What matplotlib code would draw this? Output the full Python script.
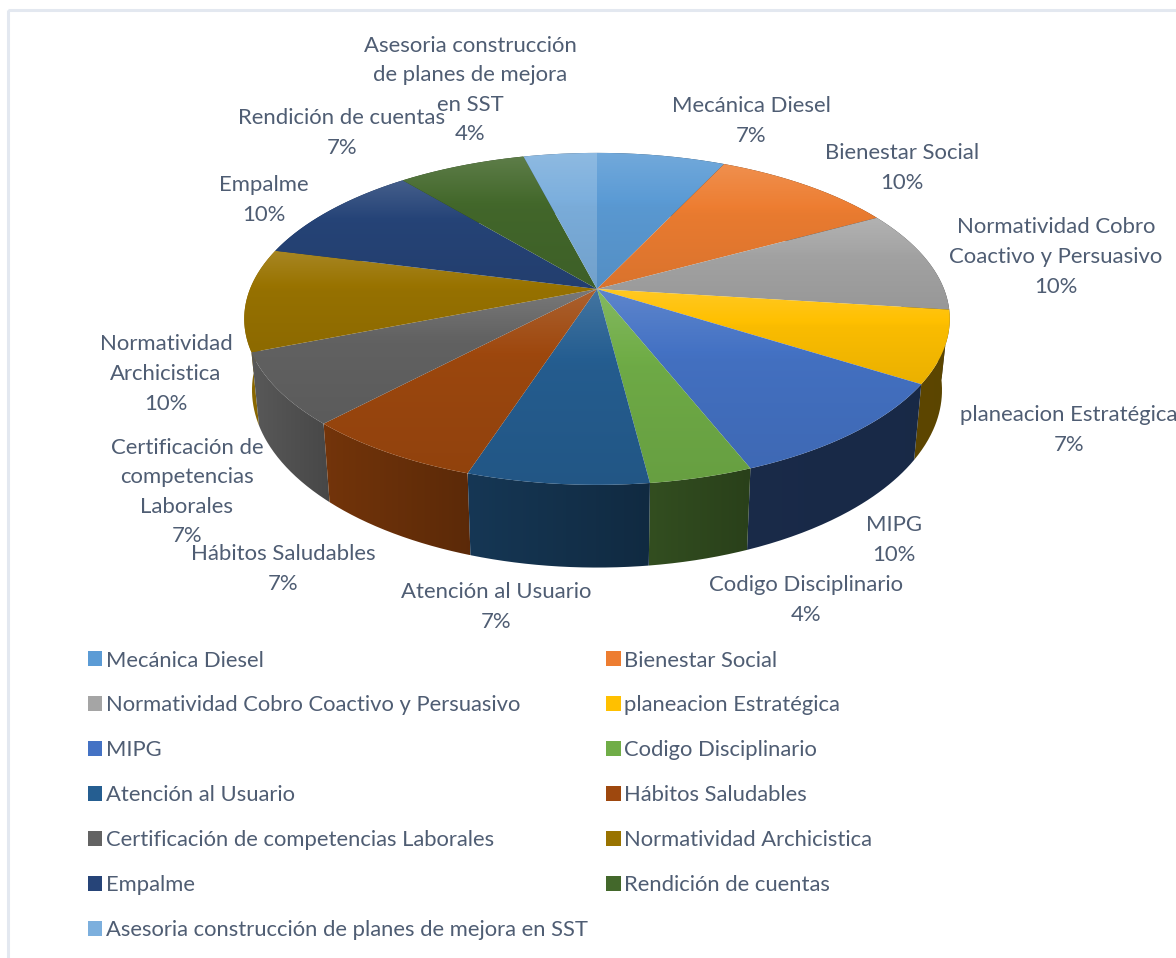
# -*- coding: utf-8 -*-
import numpy as np
import matplotlib
matplotlib.use('Agg')
import matplotlib.pyplot as plt
from matplotlib.patches import Patch, PathPatch, Rectangle
from matplotlib.path import Path

plt.rcParams['font.family'] = ['Lato', 'DejaVu Sans']

names = ['Mecánica Diesel', 'Bienestar Social', 'Normatividad Cobro Coactivo y Persuasivo',
         'planeacion Estratégica', 'MIPG', 'Codigo Disciplinario', 'Atención al Usuario',
         'Hábitos Saludables', 'Certificación de competencias Laborales',
         'Normatividad Archicistica', 'Empalme', 'Rendición de cuentas',
         'Asesoria construcción de planes de mejora en SST']
values = [7, 10, 10, 7, 10, 4, 7, 7, 7, 10, 10, 7, 4]
colors = ['#5B9BD5', '#ED7D31', '#A5A5A5', '#FFC000', '#4472C4', '#70AD47', '#255E91',
          '#9E480E', '#636363', '#997300', '#264478', '#43682B', '#7CAFDD']

# wrapped label text as in the chart
wrapped = ['Mecánica Diesel', 'Bienestar Social', 'Normatividad Cobro\nCoactivo y Persuasivo',
           'planeacion Estratégica', 'MIPG', 'Codigo Disciplinario', 'Atención al Usuario',
           'Hábitos Saludables', 'Certificación de\ncompetencias\nLaborales',
           'Normatividad\nArchicistica', 'Empalme', 'Rendición de cuentas',
           'Asesoria construcción\nde planes de mejora\nen SST']
label_x = [751, 902, 1056, 1069, 894, 806, 496, 283, 187, 166, 264, 342, 470]
label_y = [121, 168, 257, 430, 540, 600, 607, 569, 492, 374, 200, 133, 90]

TXT = '#4F5D73'
cx, cy = 597, 289
b, a, k = 347, 160.6, 0.18


def top_edge(t):
    w = 1 + k * np.cos(t)
    return cx + b * np.sin(t) / w, cy - a * np.cos(t) / w


def bottom_edge(t):
    x, y = top_edge(t)
    return cx + 0.978 * (x - cx), cy + 1.07 * (y - cy) + 69


def mix(c, f):
    rgb = np.array(matplotlib.colors.to_rgb(c))
    if f > 1:
        return rgb + (1 - rgb) * (f - 1)
    return rgb * f


fig = plt.figure(figsize=(11.76, 9.58), dpi=100)
ax = fig.add_axes([0, 0, 1, 1])
ax.axis('off')

# thin frame of the pasted chart
ax.add_patch(Rectangle((7.5, 9.5), 1300, 1100, fill=False, ec='#E3E8F0', lw=2.2))

ends = np.cumsum(values) / np.sum(values) * 2 * np.pi
starts = np.r_[0, ends[:-1]]

# side walls, back to front
order = np.argsort(-np.abs(np.pi - (starts + ends) / 2))
for i in order:
    t = np.linspace(starts[i], ends[i], 80)
    x1, y1 = top_edge(t)
    x2, y2 = bottom_edge(t)
    xs = np.r_[x1, x2[::-1]]
    ys = np.r_[y1, y2[::-1]]
    patch = PathPatch(Path(np.c_[xs, ys]), fc='none', ec='none')
    ax.add_patch(patch)
    gx = np.linspace(xs.min(), xs.max(), 60)
    fac = np.interp(gx, [250, 330, 470, 650, 750, 950], [0.9, 0.72, 0.58, 0.45, 0.37, 0.36])
    img = np.array([[mix(colors[i], f) for f in fac]])
    im = ax.imshow(img, extent=[xs.min(), xs.max(), ys.max(), ys.min()], aspect='auto', zorder=2)
    im.set_clip_path(patch)

# top face with the glossy vertical gradient
for i in range(len(values)):
    t = np.linspace(starts[i], ends[i], 80)
    x1, y1 = top_edge(t)
    xs = np.r_[cx, x1]
    ys = np.r_[cy, y1]
    patch = PathPatch(Path(np.c_[xs, ys]), fc='none', ec='none')
    ax.add_patch(patch)
    v = np.linspace(0, 1, 100)
    fac = np.interp(v, [0, 0.4, 1], [1.14, 0.98, 0.92])
    img = np.array([[mix(colors[i], f)] for f in fac])
    im = ax.imshow(img, extent=[xs.min(), xs.max(), ys.max(), ys.min()], aspect='auto', zorder=3)
    im.set_clip_path(patch)

ax.set_xlim(0, 1176)
ax.set_ylim(958, 0)

for i in range(len(values)):
    ax.text(label_x[i], label_y[i], '%s\n%d%%' % (wrapped[i], values[i]), ha='center', va='center',
            fontsize=15.9, color=TXT, linespacing=1.6, zorder=5, clip_on=True)

# legend fills by column, the chart reads by row
handles = [Patch(fc=c, ec='none') for c in colors]
idx = list(range(0, 13, 2)) + list(range(1, 13, 2))
ax.legend([handles[i] for i in idx], [names[i] for i in idx], ncols=2, frameon=False,
          loc='upper left', bbox_to_anchor=(70 / 1176, 1 - 633 / 958), fontsize=15.8,
          labelcolor=TXT, handlelength=0.68, handleheight=0.68, handletextpad=0.15,
          labelspacing=1.135, columnspacing=0.84, borderpad=0.3)

fig.savefig('out.png', dpi=100)
